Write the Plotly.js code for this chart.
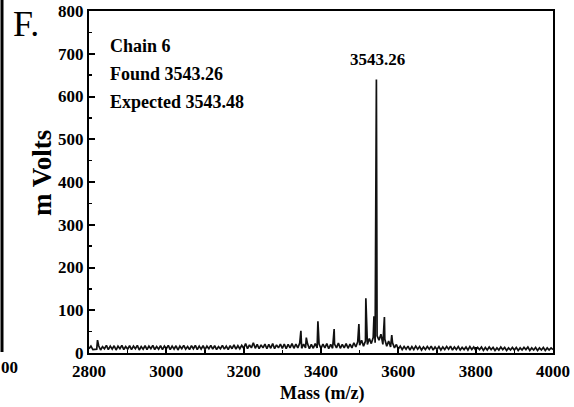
<!DOCTYPE html>
<html>
<head>
<meta charset="utf-8">
<script src="https://cdn.plot.ly/plotly-3.0.1.min.js"></script>
<style>html,body{margin:0;padding:0;background:#fff;}#chart{width:574px;height:407px;}</style>
</head>
<body>
<div id="chart"></div>
<script>
// Baseline readings every 5 m/z from 2800 to 4000 (mV)
const baseStart = 2800;
const baseStep = 5;
const baseline = [
  10,16,8,9,9,17,7,15,10,18,8,16,9,17,7,16,10,18,8,15,
  9,17,8,16,10,18,7,15,9,17,8,16,10,18,8,15,9,17,8,16,
  10,18,8,16,9,17,7,16,10,18,9,15,8,17,10,18,8,16,9,17,
  8,16,10,18,9,17,8,15,10,18,9,16,8,17,10,19,9,17,10,18,
  11,22,10,19,12,24,11,20,10,19,12,21,10,20,11,22,10,19,12,21,
  11,21,10,20,12,22,11,21,12,23,11,21,12,22,10,20,11,22,12,21,
  11,21,12,22,10,20,11,21,12,23,11,20,12,22,11,21,12,24,14,26,
  18,30,16,28,20,34,22,36,24,40,30,44,20,32,16,28,14,24,12,20,
  9,16,8,15,9,16,7,15,8,16,9,15,7,14,8,15,9,16,7,14,
  8,15,7,14,8,15,9,16,7,14,8,15,7,13,8,14,7,15,8,14,
  7,13,8,14,6,13,7,14,8,13,6,12,7,14,8,13,6,12,7,13,
  7,13,6,12,7,13,8,14,6,12,7,13,6,12,7,13,6,12,7,12,
  8
];
// Peaks
const peakMz = [2822, 3348, 3362, 3392, 3434, 3498, 3516, 3537, 3543.26, 3564, 3583];
const peakMv = [30, 52, 36, 74, 56, 68, 128, 86, 640, 84, 42];

const infoLines = ["Chain 6", "Found 3543.26", "Expected 3543.48"];
const peakLabel = "3543.26";
const xTitle = "Mass (m/z)";
const yTitle = "m Volts";
const panelLetter = "F.";
const prevPanelTick = "00";

// merge baseline and peaks into one spectrum
let pts = baseline.map((v, i) => [baseStart + i * baseStep, v]);
peakMz.forEach((m, i) => pts.push([m, peakMv[i]]));
pts.sort((a, b) => a[0] - b[0]);
const xs = pts.map(p => p[0]);
const ys = pts.map(p => p[1]);

const serif = "Liberation Serif, Times New Roman, serif";
const L = 89, T = 11, W = 464, H = 342;
const px = x => (x - L) / W;
const py = y => (T + H - y) / H;

const ann = [];
infoLines.forEach((t, i) => {
  ann.push({text: "<b>" + t + "</b>", xref: "paper", yref: "paper", x: px(108), y: py(46 + 28 * i),
    xanchor: "left", yanchor: "middle", showarrow: false, font: {family: serif, size: 18, color: "#000"}});
});
ann.push({text: "<b>" + peakLabel + "</b>", xref: "x", yref: "paper", x: 3545, y: py(60),
  xanchor: "center", yanchor: "middle", showarrow: false, font: {family: serif, size: 17, color: "#000"}});
ann.push({text: "<b>" + yTitle + "</b>", xref: "paper", yref: "paper", x: px(42), y: py(173),
  textangle: -90, xanchor: "center", yanchor: "middle", showarrow: false, font: {family: serif, size: 27, color: "#000"}});
ann.push({text: "<b>" + xTitle + "</b>", xref: "paper", yref: "paper", x: px(322), y: py(393),
  xanchor: "center", yanchor: "middle", showarrow: false, font: {family: serif, size: 18, color: "#000"}});
ann.push({text: panelLetter, xref: "paper", yref: "paper", x: px(11), y: py(24),
  xanchor: "left", yanchor: "middle", showarrow: false, font: {family: serif, size: 36, color: "#000"}});
ann.push({text: "<b>" + prevPanelTick + "</b>", xref: "paper", yref: "paper", x: px(-1), y: py(367),
  xanchor: "left", yanchor: "middle", showarrow: false, font: {family: serif, size: 17, color: "#000"}});

const data = [{
  x: xs, y: ys, type: "scatter", mode: "lines",
  line: {color: "#111", width: 1.7}, hoverinfo: "skip"
}];

const axisFont = {family: serif, size: 17, color: "#000", weight: "bold"};
const layout = {
  width: 574, height: 407,
  margin: {l: L, r: 574 - L - W, t: T, b: 407 - T - H},
  paper_bgcolor: "#fff", plot_bgcolor: "#fff",
  showlegend: false,
  xaxis: {
    range: [2800, 4000], dtick: 200, tick0: 2800, ticks: "inside", ticklen: 6, tickwidth: 2, tickcolor: "#000",
    minor: {dtick: 100, ticks: "inside", ticklen: 3, tickwidth: 1.5, tickcolor: "#000"},
    showline: true, linewidth: 2, linecolor: "#000", mirror: true, showgrid: false, zeroline: false,
    tickfont: axisFont, ticklabelstandoff: 2
  },
  yaxis: {
    range: [0, 800], dtick: 100, tick0: 0, ticks: "inside", ticklen: 6, tickwidth: 2, tickcolor: "#000",
    minor: {dtick: 50, ticks: "inside", ticklen: 3, tickwidth: 1.5, tickcolor: "#000"},
    showline: true, linewidth: 2, linecolor: "#000", mirror: true, showgrid: false, zeroline: false,
    tickfont: axisFont
  },
  shapes: [{type: "line", xref: "paper", yref: "paper", x0: px(2), x1: px(2), y0: py(352), y1: py(-5),
    line: {color: "#000", width: 3}}],
  annotations: ann
};
Plotly.newPlot("chart", data, layout, {displayModeBar: false, staticPlot: true});
</script>
</body>
</html>
